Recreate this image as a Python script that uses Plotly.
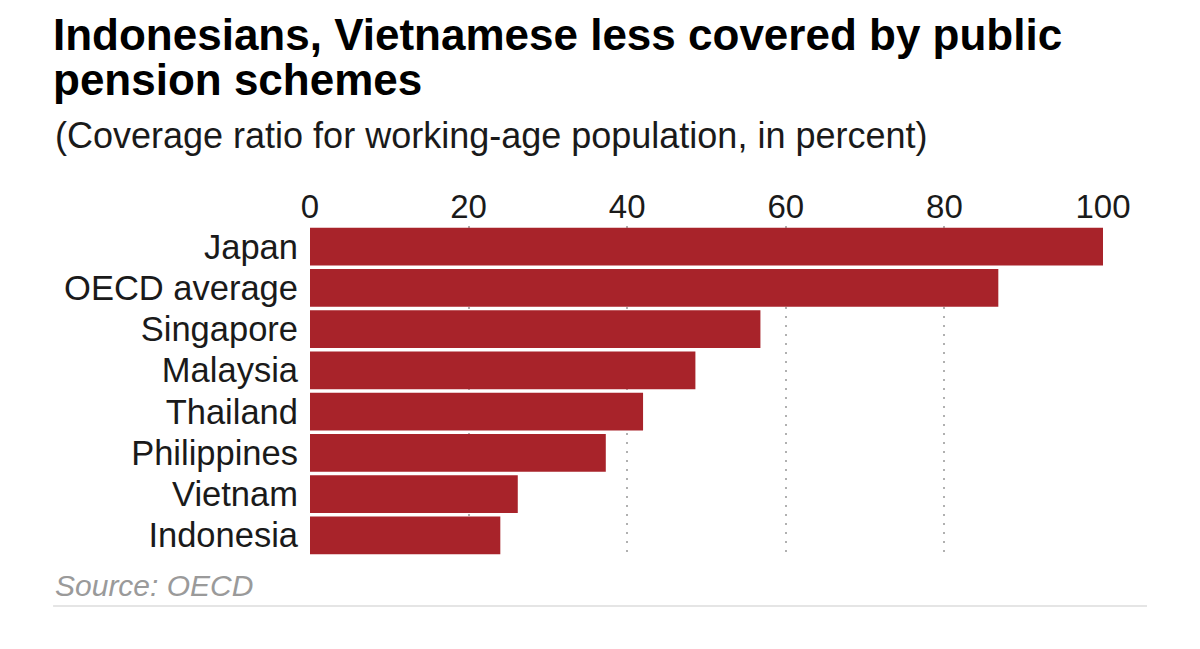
"""Pension coverage bar chart"""

import plotly.graph_objects as go

# data
countries = ["Japan", "OECD average", "Singapore", "Malaysia",
             "Thailand", "Philippines", "Vietnam", "Indonesia"]
coverage = [100, 86.8, 56.8, 48.6, 42.0, 37.3, 26.2, 24.0]
tick_vals = [0, 20, 40, 60, 80, 100]

title_1 = "Indonesians, Vietnamese less covered by public"
title_2 = "pension schemes"
subtitle = "(Coverage ratio for working-age population, in percent)"
source = "Source: OECD"

FONT = "Liberation Sans, Arial, sans-serif"
BAR = "#a8232a"

fig = go.Figure(go.Bar(
    x=coverage,
    y=countries,
    orientation="h",
    marker=dict(color=BAR, line=dict(width=0)),
    hoverinfo="x+y",
))

# page body adds 8px, so margins are pulled in by that much
fig.update_layout(
    width=1200, height=649,
    margin=dict(l=302, r=105, t=218, b=101),
    paper_bgcolor="white", plot_bgcolor="white",
    font=dict(family=FONT, size=33, color="#1a1a1a"),
    bargap=0.09,
    showlegend=False,
)

fig.update_xaxes(
    side="top", range=[0, 100], tickvals=tick_vals,
    showgrid=True, gridcolor="#b0b0b0", gridwidth=1.5, griddash="2px,7px",
    zeroline=False, showline=False, ticks="",
    tickfont=dict(size=33, color="#1a1a1a"),
)
fig.update_yaxes(
    autorange="reversed", tickmode="array", tickvals=countries,
    showgrid=False, zeroline=False, showline=False,
    ticks="", ticklabelstandoff=11,
    tickfont=dict(size=34.5, color="#1a1a1a"),
)

# title, subtitle, source as text
fig.add_annotation(text="<b>" + title_1 + "</b>", xref="paper", yref="paper",
                   x=-0.3253, y=1.503, xanchor="left", yanchor="bottom",
                   borderpad=0, showarrow=False,
                   font=dict(size=44, color="#000000"))
fig.add_annotation(text="<b>" + title_2 + "</b>", xref="paper", yref="paper",
                   x=-0.3253, y=1.368, xanchor="left", yanchor="bottom",
                   borderpad=0, showarrow=False,
                   font=dict(size=44, color="#000000"))
fig.add_annotation(text=subtitle, xref="paper", yref="paper",
                   x=-0.3240, y=1.207, xanchor="left", yanchor="bottom",
                   showarrow=False, font=dict(size=36, color="#1a1a1a"))
fig.add_annotation(text="<i>" + source + "</i>", xref="paper", yref="paper",
                   x=-0.3240, y=-0.146, xanchor="left", yanchor="bottom",
                   showarrow=False, font=dict(size=30, color="#9a9a9a"))

# thin rule under the source
fig.add_shape(type="line", xref="paper", yref="paper",
              x0=-0.324, x1=1.0555, y0=-0.1515, y1=-0.1515,
              line=dict(color="#dddddd", width=1.5))

fig.write_html("out.html")
